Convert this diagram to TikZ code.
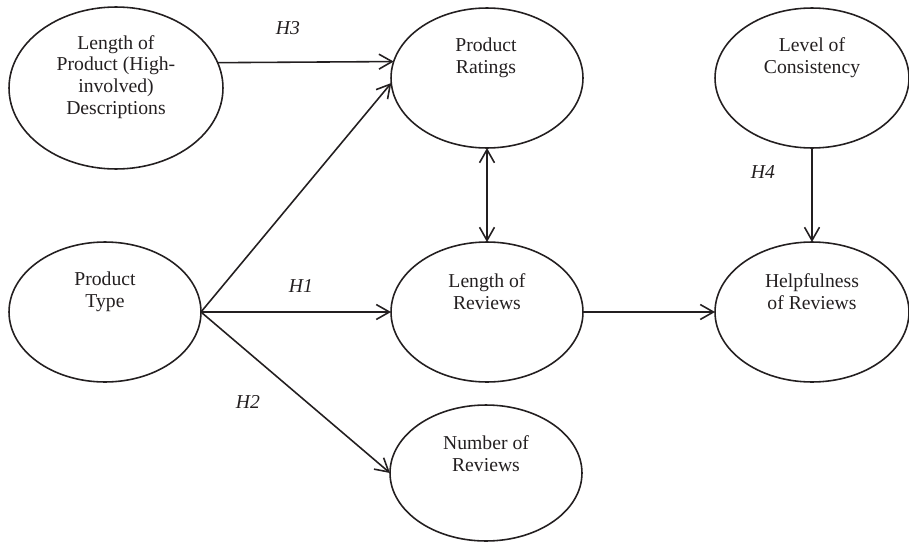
\documentclass[tikz,border=0pt]{standalone}
\usepackage{fontspec}
\setmainfont{Liberation Serif}
\usetikzlibrary{shapes.geometric,arrows.meta}
\definecolor{ink}{HTML}{231F20}
\begin{document}
\begin{tikzpicture}[x=0.02cm,y=-0.02cm,
  var/.style={ellipse,draw=ink,line width=0.9pt,inner sep=0pt,outer sep=0pt,minimum width=3.84cm,minimum height=2.8cm},
  txt/.style={align=center,text=ink,inner sep=0pt,font=\fontsize{11.2}{12.4}\selectfont},
  hyp/.style={text=ink,inner sep=0pt,font=\fontsize{11.2}{12.4}\selectfont\itshape},
  arr/.style={draw=ink,line width=0.9pt,-{Straight Barb[length=7.5pt,width=8.5pt]}},
  darr/.style={draw=ink,line width=0.9pt,{Straight Barb[length=7.5pt,width=8.5pt]}-{Straight Barb[length=7.5pt,width=8.5pt]}},
]
\useasboundingbox (0,0) rectangle (909,541);
% ellipses
\node[var,minimum width=4.28cm,minimum height=3.24cm] (A) at (116,88) {};
\node[txt] (At) at (116,77) {Length of\\Product (High-\\involved)\\Descriptions};
\node[var] (B) at (487,78) {};
\node[txt] (Bt) at (486,58) {Product\\Ratings};
\node[var,minimum width=3.88cm] (F) at (812,78) {};
\node[txt] (Ft) at (812,58) {Level of\\Consistency};
\node[var] (P) at (105,312) {};
\node[txt] (Pt) at (105,292) {Product\\Type};
\node[var] (C) at (487,312) {};
\node[txt] (Ct) at (487,292) {Length of\\Reviews};
\node[var,minimum width=3.88cm] (E) at (812,312) {};
\node[txt] (Et) at (812,292) {Helpfulness\\of Reviews};
\node[var,minimum height=2.72cm] (D) at (486,473) {};
\node[txt] (Dt) at (486,454) {Number of\\Reviews};
% connectors
\draw[arr] (A.14.4) -- (B.170.3);
\draw[arr] (P.east) -- (B.183);
\draw[arr] (P.east) -- (C.west);
\draw[arr] (P.east) -- (D.west);
\draw[darr] (B.south) -- (C.north);
\draw[arr] (C.east) -- (E.west);
\draw[arr] (F.south) -- (E.north);
% hypothesis labels
\node[hyp] (h3) at (288,28) {H3};
\node[hyp] (h1) at (301,286) {H1};
\node[hyp] (h2) at (248,402) {H2};
\node[hyp] (h4) at (763,172) {H4};
\end{tikzpicture}
\end{document}
